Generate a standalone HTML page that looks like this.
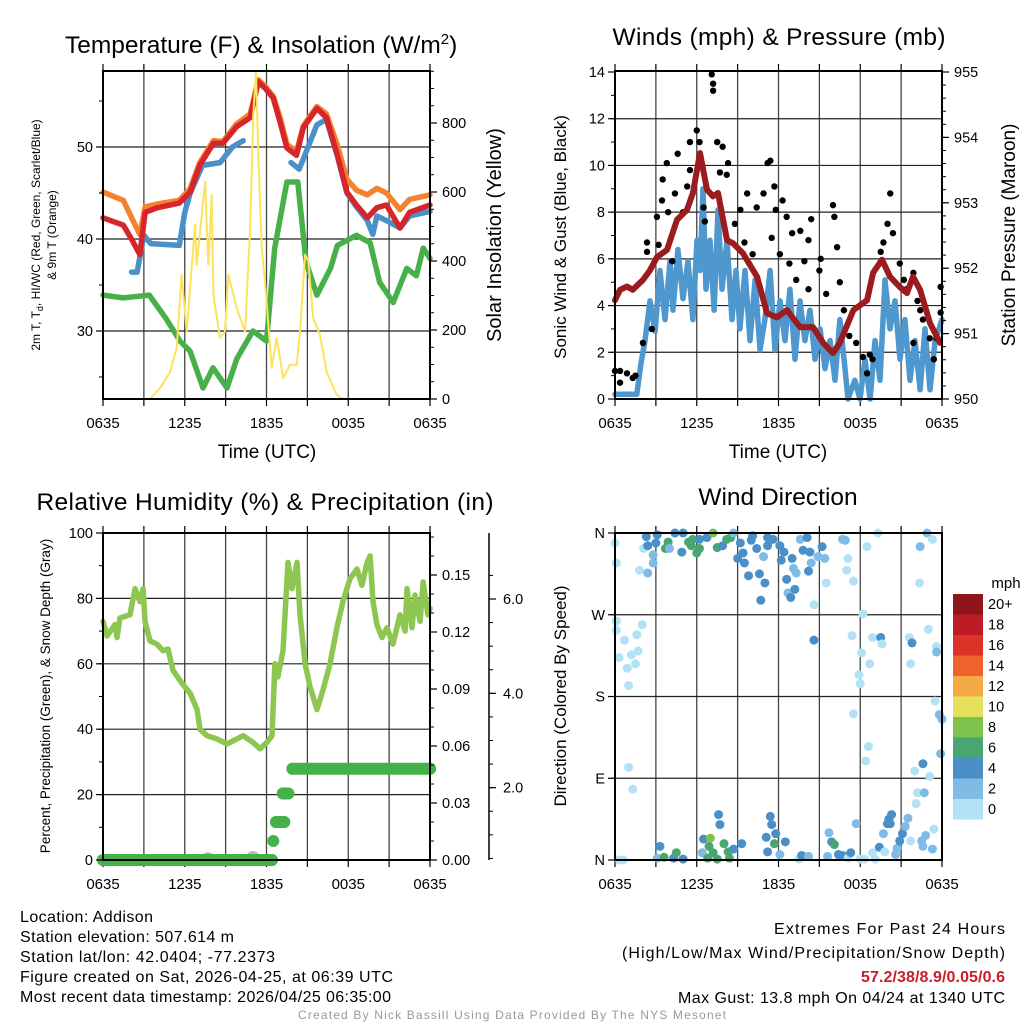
<!DOCTYPE html>
<html><head><meta charset="utf-8"><style>
body{margin:0;background:#fff}
svg text{font-family:"Liberation Sans",sans-serif;fill:#000}
</style></head><body>
<svg id="chart" xmlns="http://www.w3.org/2000/svg" width="1024" height="1024" viewBox="0 0 1024 1024">
<rect width="1024" height="1024" fill="#fff"/>
<g id="g1"></g>
<g id="g2"></g>
<g id="g3"></g>
<g id="g4"></g>

<text x="65" y="53" font-size="24.5">Temperature (F) &amp; Insolation (W/m<tspan dy="-9" font-size="15">2</tspan><tspan dy="9">)</tspan></text>
<text x="779" y="45" font-size="24.5" text-anchor="middle" textLength="333">Winds (mph) &amp; Pressure (mb)</text>
<text x="265" y="510" font-size="24.5" text-anchor="middle" textLength="457">Relative Humidity (%) &amp; Precipitation (in)</text>
<text x="778" y="505" font-size="24.5" text-anchor="middle">Wind Direction</text>

<text transform="translate(40,235) rotate(-90)" font-size="12" text-anchor="middle">2m T, T<tspan dy="3" font-size="9">d</tspan><tspan dy="-3">, HI/WC (Red, Green, Scarlet/Blue)</tspan></text>
<text transform="translate(56,235) rotate(-90)" font-size="12" text-anchor="middle">&amp; 9m T (Orange)</text>
<text transform="translate(501,235) rotate(-90)" font-size="20" text-anchor="middle">Solar Insolation (Yellow)</text>
<text transform="translate(566,237) rotate(-90)" font-size="17" text-anchor="middle">Sonic Wind &amp; Gust (Blue, Black)</text>
<text transform="translate(1015,235) rotate(-90)" font-size="19" text-anchor="middle">Station Pressure (Maroon)</text>
<text transform="translate(50,696) rotate(-90)" font-size="13.5" text-anchor="middle">Percent, Precipitation (Green), &amp; Snow Depth (Gray)</text>
<text transform="translate(566,696) rotate(-90)" font-size="17" text-anchor="middle">Direction (Colored By Speed)</text>
<text x="267" y="458" font-size="19" text-anchor="middle">Time (UTC)</text>
<text x="778" y="458" font-size="19" text-anchor="middle">Time (UTC)</text>
<text x="1006" y="588" font-size="15" text-anchor="middle">mph</text>
<g id="cbar"></g>

<g font-size="16">
<text x="20" y="922" textLength="133">Location: Addison</text>
<text x="20" y="942" textLength="214">Station elevation: 507.614 m</text>
<text x="20" y="962" textLength="255">Station lat/lon: 42.0404; -77.2373</text>
<text x="20" y="982" textLength="373">Figure created on Sat, 2026-04-25, at 06:39 UTC</text>
<text x="20" y="1002" textLength="371">Most recent data timestamp: 2026/04/25 06:35:00</text>
</g>
<g font-size="16">
<text x="774" y="934" textLength="231">Extremes For Past 24 Hours</text>
<text x="622" y="958" textLength="383">(High/Low/Max Wind/Precipitation/Snow Depth)</text>
<text x="861" y="982" textLength="144" font-weight="bold" style="fill:#c8202a">57.2/38/8.9/0.05/0.6</text>
<text x="678" y="1003" textLength="327">Max Gust: 13.8 mph On 04/24 at 1340 UTC</text>
</g>
<text x="512" y="1019" font-size="12" text-anchor="middle" textLength="428" style="fill:#999">Created By Nick Bassill Using Data Provided By The NYS Mesonet</text>
</svg>
<script>
// ---- Panel 1 data ----
const tempTimes=[0,1.5,2.2,2.7,3.1,4,5.6,6.4,7.1,8.1,8.8,9.8,10.8,11.4,11.9,12.5,13,13.5,14.2,14.7,15.7,16.4,17.2,17.9,18.6,19.4,20.1,20.8,21.8,22.5,24];
const tempRed=[42.3,41.5,39.7,38.3,42.9,43.4,43.9,45.1,48.0,50.4,50.4,52.2,53.2,57.1,56.4,55.3,52.7,49.9,49.1,52.1,54.2,53.2,49.1,45.1,43.7,42.3,43.4,43.7,41.2,42.9,43.7];
const tempOrange=[45.1,44.2,42.0,40.5,43.5,43.8,44.2,45.5,48.3,50.7,50.6,52.5,53.6,57.3,56.6,55.5,53.2,50.3,49.5,52.3,54.4,53.6,50.2,46.5,45.3,44.8,45.5,45.0,43.2,44.3,44.8];
const wcTimes=[2.1,2.5,3.0,3.5,5.6,6.0,6.4,7.3,8.6,9.5,10.3,10.6,13.8,14.4,15.7,16.4,17.2,17.9,18.6,19.4,19.8,20.1,20.8,21.8,22.5,24];
const wcBlue=[36.4,36.4,40.4,39.5,39.3,42.9,45,48,48.3,50,50.7,null,48.3,47.6,52.4,53.0,49.0,45.0,43.5,42.0,40.5,42.5,42.0,41.2,42.5,43.0];
const dewTimes=[0,1.47,3.4,4.6,5.65,6.39,7.34,8.07,9.1,9.83,11.0,12.0,12.6,13.5,14.3,14.9,15.7,16.7,17.2,18.6,19.6,20.3,21.3,22.3,23.0,23.5,24];
const dewGreen=[33.9,33.6,33.9,31.4,28.9,27.8,23.8,26,23.8,27.0,30,28.9,39,46.2,46.2,37.5,33.9,36.8,39.3,40.4,39.6,35.3,33.1,36.8,36.0,39.0,37.9];
const solTimes=[0,3.45,4.18,4.92,5.41,5.77,6.14,6.39,6.75,6.88,7.49,7.73,7.98,8.1,8.59,8.95,9.2,9.81,10.42,10.79,11.03,11.23,11.4,11.65,11.89,12.38,12.75,13.23,13.72,14.22,14.46,14.83,15.07,15.43,15.93,16.42,17.15,17.64,24];
const solar=[0,0,32,78,148,360,195,322,505,389,630,389,592,302,177,195,360,264,195,485,824,949,708,438,340,90,177,61,99,99,195,418,400,235,186,78,12,0,0];
// ---- Panel 2 data ----
const windTimes=[0,1.6,1.9,2.2,2.57,2.94,3.3,3.67,4.04,4.26,4.62,4.99,5.36,5.72,6.02,6.24,6.46,6.68,6.97,7.27,7.56,7.85,8.22,8.59,8.88,9.17,9.54,9.91,10.28,10.64,11.0,11.38,11.74,12.11,12.48,12.84,13.21,13.58,13.94,14.31,14.68,15.05,15.41,15.78,16.15,16.51,16.88,17.1,17.6,17.98,18.35,18.72,19.08,19.45,19.82,20.18,20.55,20.92,21.28,21.65,22.02,22.39,22.75,23.12,23.49,24];
const windSpeed=[0.2,0.2,1.5,2.5,4.2,2.9,5.5,3.4,5.9,3.8,6.4,4.3,5.9,3.4,6.8,5.5,9.0,4.7,6.8,3.8,8.1,4.7,6.8,3.4,5.5,3.0,5.5,2.5,5.1,2.1,3.4,5.5,2.1,4.2,2.5,4.7,1.7,4.2,2.5,3.8,1.7,3.0,1.3,2.5,0.8,3.4,1.3,0,0.8,0,1.7,0,2.5,0.8,5.1,3.0,4.2,1.7,3.4,0.8,2.5,0.4,3.0,0.4,2.5,3.4];
const gustTimes=[0,0.37,0.37,0.88,1.3,1.5,2.05,2.35,2.35,2.7,3.08,3.2,3.45,3.5,3.8,3.9,4.2,4.4,4.6,5.0,5.3,5.5,5.5,6.0,6.2,6.5,6.6,7.1,7.2,7.2,7.5,7.7,7.9,8.3,8.2,8.8,9.2,9.5,9.7,10.1,10.4,10.9,11.2,11.4,11.5,11.7,11.8,12.1,12.3,12.6,12.8,13.0,13.3,13.6,13.9,14.2,14.4,14.2,15.0,15.1,15.5,16.0,16.1,16.3,16.5,16.8,17.2,17.7,18.2,18.5,18.7,18.9,19.5,19.7,20.0,20.2,20.4,20.9,21.2,21.4,21.9,21.9,22.2,22.4,22.6,23.1,23.4,23.6,23.9,23.9];
const gustSpeed=[1.2,1.2,0.7,1.1,0.9,1.0,2.4,6.7,6.3,3.0,7.8,6.6,8.5,9.4,10.1,8.0,5.9,8.8,10.5,8.0,9.1,9.8,11.0,11.5,11.0,8.2,7.6,13.9,13.2,13.5,11.0,9.7,10.8,10.1,9.6,7.5,8.1,6.7,8.8,6.2,8.2,8.8,10.1,10.2,6.9,9.1,8.1,6.2,8.5,7.8,5.8,7.1,5.1,7.2,5.9,6.8,7.7,4.7,5.5,6.0,4.5,8.3,7.8,6.5,5.0,3.8,2.7,2.4,1.8,1.1,1.9,1.7,6.3,6.7,7.5,8.8,7.1,5.8,5.1,4.7,5.4,2.4,4.2,3.8,3.4,2.6,1.7,2.6,3.7,4.8];
const presTimes=[0,0.37,0.88,1.3,2.05,2.57,3.08,3.82,4.55,5.28,5.72,6.24,6.75,7.19,7.56,8.22,8.66,9.39,10.42,11.16,11.89,12.62,13.58,14.53,15.27,16.0,16.5,17.5,18.5,18.94,19.6,20.18,20.92,21.43,21.87,22.39,23.12,23.85];
const pressure=[951.51,951.67,951.72,951.67,951.82,951.97,952.17,952.28,952.74,952.89,953.15,953.76,953.2,953.1,953.15,952.43,952.38,952.23,951.87,951.31,951.25,951.36,951.1,951.1,950.86,950.7,950.86,951.36,951.51,951.93,952.13,951.87,951.71,951.62,951.87,951.67,951.16,950.86];
// ---- Panel 3 data ----
const rhTimes=[0,0.29,0.88,1.03,1.25,1.98,2.35,2.72,2.94,3.08,3.45,3.96,4.4,4.77,5.14,5.8,6.39,6.9,7.12,7.63,8.37,9.1,9.83,10.28,11.0,11.52,12.04,12.4,12.62,12.84,13.21,13.58,13.87,14.24,14.46,14.83,15.19,15.71,16.15,16.66,17.17,17.61,18.13,18.64,19.0,19.38,19.6,19.82,20.1,20.48,20.84,21.28,21.8,22.17,22.31,22.68,22.9,23.27,23.49,23.85,24];
const rhValues=[73,68.5,72,68,74,75,83,79,83,73,67,66,64,64.5,58,54,51,46,40,38,37,35.5,37,38,36,34,36,38,60,56,64,91,83,91,75,60,53,46,52,60,71,79,86,89,84,91,93,79,72,68,71,66,75,70,83,71,81,73,85,75,77];
const precipTimes=[0,12.4,12.5,12.7,13.0,13.3,13.2,13.6,13.9,24];
const precipValues=[0,0,0.01,0.02,0.02,0.02,0.035,0.035,0.048,0.048];
const snowTimes=[7.7,11.0];
const snowValues=[0.02,0.05];
// ---- Panel 4 data ----
const dirTimes=[0,0.1,2.1,2.3,2.4,1.8,2.4,2.8,2.8,3.1,3.0,3.7,3.9,4.0,4.4,4.9,5.0,5.4,5.6,5.7,6.0,6.2,6.2,6.75,7.2,7.5,7.9,8.2,8.5,8.7,9.0,9.2,9.4,9.5,9.8,10.0,10.1,10.4,10.6,10.7,10.9,11.0,11.2,11.2,11.6,12.1,12.2,12.4,12.6,12.7,12.9,13.0,13.1,13.2,13.3,13.6,13.8,14.1,14.2,14.3,14.4,14.6,14.9,15.2,15.4,15.5,16.7,16.9,17.0,17.1,17.5,18.5,19.3,22.4,22.35,22.9,23.3,
0.1,0.7,0.3,0.9,1.0,1.2,1.5,1.6,1.7,2.0,0.1,14.6,18.2,17.4,18.1,18.7,18.9,19.5,19.6,17.9,18.0,17.5,21.6,21.8,21.7,23.0,23.6,23.6,
23.5,23.8,24,23.9,22.6,22.0,23.1,18.6,18.4,1.0,1.3,
0.3,0.6,3.1,3.3,3.6,4.3,4.5,5.0,6.4,6.5,6.8,6.9,7.0,7.2,7.5,7.6,7.7,8.0,8.3,8.4,8.7,9.3,11.1,11.2,11.4,11.5,11.7,11.8,12.1,12.5,13.5,13.7,14.2,15.6,15.7,15.9,16.1,16.4,16.7,17.1,17.3,17.7,18.0,18.3,18.9,19.1,19.4,19.7,19.8,20.0,20.1,20.3,20.2,20.6,20.7,20.9,21.1,21.3,21.5,21.7,22.2,22.7,22.1,22.5,22.6,22.8,23.3,23.4];
const dirDegrees=[349,327,343,356,346,319,316,336,327,358,349,343,350,343,360,339,360,350,346,353,338,353,343,355,360,344,346,353,355,360,332,349,338,327,313,352,357,343,315,286,334,305,355,346,353,346,330,339,309,294,289,332,321,298,316,353,341,355,318,339,327,281,334,345,332,305,353,352,319,332,307,345,360,345,305,360,353,
253,242,223,211,192,226,216,248,230,259,263,242,271,247,228,216,245,245,238,204,194,161,245,239,216,254,235,229,
175,160,155,117,106,98,92,125,109,102,78,
0,0,2,15,3,2,8,1,8,23,2,15,24,8,1,50,39,18,9,2,12,18,25,9,48,39,18,29,6,20,1,5,4,4,30,20,17,6,5,2,8,40,1,1,8,1,14,29,9,40,45,50,40,6,13,21,29,37,46,21,74,74,62,21,15,27,12,34];
const dirSpeeds=[1,1,1,5,5,1,3,3,3,5,5,7,7,3,5,5,5,7,7,7,7,5,7,5,9,7,5,7,7,3,5,5,5,5,5,5,5,5,5,5,3,5,5,5,5,5,5,5,5,3,5,5,3,5,3,3,5,5,5,5,3,1,3,5,3,1,3,3,1,1,1,1,1,3,1,3,1,
1,1,1,1,1,1,1,1,1,1,1,5,1,1,1,1,1,5,1,1,1,1,1,5,1,1,1,3,
1,3,3,3,5,1,1,1,1,1,1,
1,1,3,5,7,5,7,5,3,5,7,7,9,7,7,5,5,7,7,7,5,5,5,5,5,5,7,5,3,5,1,5,3,3,3,5,7,5,5,1,5,3,1,1,1,1,5,3,1,5,5,5,5,3,3,5,5,3,3,1,1,3,1,3,3,3,3,1];
const speedLabels=["20+","18","16","14","12","10","8","6","4","2","0"];
const speedColors=["#b3e2f7","#80bbe5","#4a8fc7","#48a771","#7dc24b","#e6e15b","#f6aa46","#f0612c","#dc3228","#bd1c25","#8e1519"];
const xTickLabels=["0635","1235","1835","0035","0635"];

const NS='http://www.w3.org/2000/svg';
function mk(parent,tag,attrs){const e=document.createElementNS(NS,tag);for(const k in attrs)e.setAttribute(k,attrs[k]);parent.appendChild(e);return e;}
function lin(d0,d1,r0,r1){return v=>r0+(v-d0)*(r1-r0)/(d1-d0);}

function frame(g,L,T,R,B,opt){
  const xs=lin(0,24,L,R);
  for(let h=3;h<24;h+=3){const l=mk(g,'line',{x1:xs(h),x2:xs(h),y1:T,y2:B,stroke:'#444','stroke-width':1.3});
    
    }
  opt.hgrid.forEach(y=>{const l=mk(g,'line',{x1:L,x2:R,y1:y,y2:y,stroke:'#222','stroke-width':1.2});
    
    });
  for(let h=0;h<=24;h+=3){
    mk(g,'line',{x1:xs(h),x2:xs(h),y1:B,y2:B+7,stroke:'#000','stroke-width':1.2});
    mk(g,'line',{x1:xs(h),x2:xs(h),y1:T,y2:T-7,stroke:'#000','stroke-width':1.2});
  }
  xTickLabels.forEach((s,i)=>{const t=mk(g,'text',{x:xs(i*6),y:B+29,'font-size':15,'text-anchor':'middle'});t.textContent=s;
    
    });
  return xs;
}
function border(g,L,T,R,B){const r=mk(g,'rect',{x:L,y:T,width:R-L,height:B-T,fill:'none',stroke:'#000','stroke-width':2});
  
  }
function yTicks(g,x,side,scale,majors,labels,minors,fs){
  const dir=side==='left'?-1:1;
  minors.forEach(v=>mk(g,'line',{x1:x,x2:x+dir*4,y1:scale(v),y2:scale(v),stroke:'#000','stroke-width':1}));
  majors.forEach((v,i)=>{mk(g,'line',{x1:x,x2:x+dir*7,y1:scale(v),y2:scale(v),stroke:'#000','stroke-width':1.2});
    const t=mk(g,'text',{x:side==='left'?x-10:x+12,y:scale(v)+5,'font-size':fs||14.5,'text-anchor':side==='left'?'end':'start'});t.textContent=labels[i];
    
    });
}
function range(a,b,s){const r=[];for(let v=a;v<=b+1e-9;v+=s)r.push(+v.toFixed(4));return r;}
function line(g,ts,vs,xs,ys,color,w,name){
  let d='',pen=false;
  ts.forEach((t,i)=>{if(vs[i]===null){pen=false;return;}d+=(pen?'L':'M')+xs(t).toFixed(1)+' '+ys(vs[i]).toFixed(1);pen=true;});
  const p=mk(g,'path',{d:d,fill:'none',stroke:color,'stroke-width':w,'stroke-linejoin':'round','stroke-linecap':'round'});
  
  
}

// ===== Panel 1 =====
(function(){
  const g=document.getElementById('g1');const L=103,T=71,R=430,B=399;
  const yT=lin(30,50,331,147), yS=lin(0,800,399,123);
  const xs=frame(g,L,T,R,B,{hgrid:[yT(30),yT(40),yT(50)]});
  line(g,dewTimes,dewGreen,xs,yT,'#47b048',5.5,'dewpoint-line');
  line(g,wcTimes,wcBlue,xs,yT,'#4a90c9',5.5,'heat-index-windchill-line');
  line(g,tempTimes,tempOrange,xs,yT,'#f5822f',5.5,'temp-9m-line');
  line(g,tempTimes,tempRed,xs,yT,'#d7262b',5.5,'temp-2m-line');
  line(g,solTimes,solar,xs,yS,'#fde25b',2,'insolation-line');
  border(g,L,T,R,B);
  yTicks(g,L,'left',yT,[30,40,50],['30','40','50'],range(25,55,5));
  yTicks(g,R,'right',yS,[0,200,400,600,800],['0','200','400','600','800'],range(0,950,50));
})();
// ===== Panel 2 =====
(function(){
  const g=document.getElementById('g2');const L=615,T=71,R=942,B=399;
  const yW=lin(0,14,399,72), yP=lin(950,955,399,72);
  const xs=frame(g,L,T,R,B,{hgrid:range(2,12,2).map(yW)});
  line(g,windTimes,windSpeed,xs,yW,'#4f97cf',5.5,'wind-speed-line');
  gustTimes.forEach((t,i)=>{const c=mk(g,'circle',{cx:xs(t),cy:yW(gustSpeed[i]),r:3.2,fill:'#000'});
    
    });
  line(g,presTimes,pressure,xs,yP,'#9b1b1e',6,'pressure-line');
  border(g,L,T,R,B);
  yTicks(g,L,'left',yW,range(0,14,2),['0','2','4','6','8','10','12','14'],range(0,14,1));
  yTicks(g,R,'right',yP,[950,951,952,953,954,955],['950','951','952','953','954','955'],range(950,955,0.2));
})();
// ===== Panel 3 =====
(function(){
  const g=document.getElementById('g3');const L=103,T=533,R=430,B=860;
  const yR=lin(0,100,860,533), yPr=lin(0,0.15,860,575), ySn=lin(0,6,882,599);
  const xs=frame(g,L,T,R,B,{hgrid:[20,40,60,80].map(yR)});
  line(g,rhTimes,rhValues,xs,yR,'#8dc651',5.5,'humidity-line');
  snowTimes.forEach((t,i)=>{const c=mk(g,'circle',{cx:xs(t),cy:yR(0)-snowValues[i]*40,r:7,fill:'#bbb'});
    
    });
  for(let i=0;i<precipTimes.length-1;i++){
    if(precipValues[i]===precipValues[i+1]){const l=mk(g,'line',{x1:xs(precipTimes[i]),x2:xs(precipTimes[i+1]),y1:yPr(precipValues[i]),y2:yPr(precipValues[i]),stroke:'#45b149','stroke-width':12,'stroke-linecap':'round'});
      
      }
  }
  precipTimes.forEach((t,i)=>{const c=mk(g,'circle',{cx:xs(t),cy:yPr(precipValues[i]),r:6,fill:'#45b149'});
    
    });
  border(g,L,T,R,B);
  yTicks(g,L,'left',yR,[0,20,40,60,80,100],['0','20','40','60','80','100'],range(0,100,10));
  yTicks(g,R,'right',yPr,[0,0.03,0.06,0.09,0.12,0.15],['0.00','0.03','0.06','0.09','0.12','0.15'],range(0,0.17,0.01));
  const ax=mk(g,'line',{x1:489,x2:489,y1:533,y2:860,stroke:'#000','stroke-width':1.5});
  
  
  [2,4,6].forEach((v,i)=>{mk(g,'line',{x1:489,x2:496,y1:ySn(v),y2:ySn(v),stroke:'#000','stroke-width':1.2});
    const t=mk(g,'text',{x:503,y:ySn(v)+5,'font-size':14.5});t.textContent=['2.0','4.0','6.0'][i];
    
    });
  range(0.5,6.5,0.5).forEach(v=>{if(ySn(v)>=533)mk(g,'line',{x1:489,x2:493,y1:ySn(v),y2:ySn(v),stroke:'#000','stroke-width':1});});
})();
// ===== Panel 4 =====
(function(){
  const g=document.getElementById('g4');const L=615,T=533,R=942,B=860;
  const yD=lin(0,360,860,533);
  const xs=frame(g,L,T,R,B,{hgrid:[90,180,270].map(yD)});
  dirTimes.forEach((t,i)=>{const bin=Math.min(10,Math.floor(dirSpeeds[i]/2));
    const c=mk(g,'circle',{cx:xs(t),cy:yD(dirDegrees[i]),r:4.5,fill:speedColors[bin]});
    
    });
  border(g,L,T,R,B);
  yTicks(g,L,'left',yD,[0,90,180,270,360],['N','E','S','W','N'],[0,90,180,270,360]);
  const cb=document.getElementById('cbar');
  speedLabels.forEach((s,i)=>{const y=594+i*20.5;
    const r=mk(cb,'rect',{x:953,y:y,width:30,height:20.6,fill:speedColors[10-i]});
    
    
    const t=mk(cb,'text',{x:988,y:y+15,'font-size':14.5});t.textContent=s;
    
    });
})();
</script>
</body></html>
